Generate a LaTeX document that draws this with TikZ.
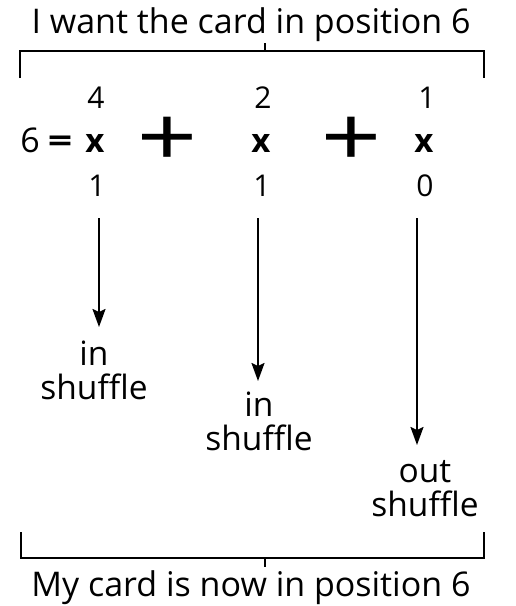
\documentclass[tikz,border=0pt]{standalone}
\usepackage{fontspec}
\setmainfont{Open Sans}
\newfontfamily\plusfont{Liberation Sans}
\usetikzlibrary{arrows.meta}
\begin{document}
\begin{tikzpicture}[x=1pt,y=-1pt,
  txt/.style={inner sep=0pt,anchor=base,font=\fontsize{34}{36}\selectfont},
  dig/.style={inner sep=0pt,anchor=base,font=\fontsize{30}{34}\selectfont},
  six/.style={inner sep=0pt,anchor=base,font=\fontsize{34}{36}\selectfont},
  bx/.style={inner sep=0pt,anchor=base,font=\fontsize{33}{36}\selectfont\bfseries},
  plussign/.style={inner sep=0pt,font=\plusfont\fontsize{82}{84}\selectfont},
  lbl/.style={inner sep=0pt,align=center,font=\fontsize{33.5}{34}\selectfont},
  brk/.style={line width=2pt},
  arr/.style={line width=2pt,-{Stealth[length=18pt,width=13pt,inset=3pt]}}]
\useasboundingbox (0,0) rectangle (516,606);
% title
\node[txt] (title) at (251,33) {I want the card in position 6};
% top bracket
\coordinate (tl) at (20,78);
\coordinate (tr) at (484,78);
\coordinate (tm) at (265,51);
\draw[brk] (tl) |- (tm) -| (tr);
\draw[brk] (tm) -- ++(0,-8);
% top digits
\node[dig] (t4) at (96,108) {4};
\node[dig] (t2) at (263,108) {2};
\node[dig] (t1) at (427,108) {1};
% middle row
\node[six] (six) at (30,152) {6};
\node[bx] (eq) at (60,152) {\scalebox{1.3}[1]{=}};
\node[bx] (x1) at (95,152) {x};
\node[plussign] (p1) at (167,141) {\scalebox{1.25}[1]{+}};
\node[bx] (x2) at (261,152) {x};
\node[plussign] (p2) at (351,141) {\scalebox{1.25}[1]{+}};
\node[bx] (x3) at (424,152) {x};
% bottom digits
\node[dig] (b1) at (97,196) {1};
\node[dig] (b2) at (262,196) {1};
\node[dig] (b0) at (425,196) {0};
% labels
\node[lbl] (l1) at (94,370) {in\\shuffle};
\node[lbl] (l2) at (259,421) {in\\shuffle};
\node[lbl] (l3) at (425,488.5) {out\\shuffle};
% arrows
\coordinate (a1s) at (99,218);
\coordinate (a1e) at (99,327);
\coordinate (a2s) at (258,218);
\coordinate (a2e) at (258,381);
\coordinate (a3s) at (417,218);
\coordinate (a3e) at (417,445);
\draw[arr] (a1s) -- (a1e);
\draw[arr] (a2s) -- (a2e);
\draw[arr] (a3s) -- (a3e);
% bottom bracket
\coordinate (bl) at (21,532);
\coordinate (br) at (484,532);
\coordinate (bm) at (265,558);
\draw[brk] (bl) |- (bm) -| (br);
\draw[brk] (bm) -- ++(0,9);
\node[txt] (bottom) at (251,596) {My card is now in position 6};
\end{tikzpicture}
\end{document}
